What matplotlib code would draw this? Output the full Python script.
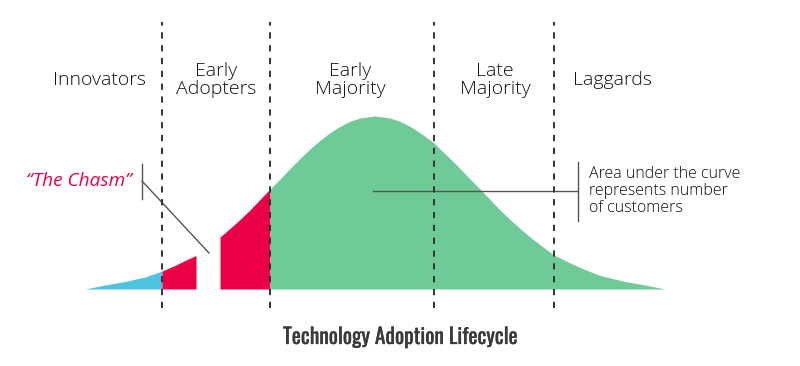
import matplotlib
matplotlib.use('Agg')
import matplotlib.pyplot as plt
from matplotlib import font_manager
import matplotlib.patheffects as pe
import numpy as np

# curve: x position (px) and height above the baseline (px)
curve_x = [85, 105, 125, 145, 162, 175, 185, 196, 205, 215, 220, 230, 240, 250, 260,
           270, 280, 290, 300, 310, 320, 330, 340, 350, 360, 375, 390, 400, 410, 420,
           434, 440, 450, 460, 470, 480, 490, 500, 510, 520, 530, 540, 553, 565, 580,
           600, 625, 645, 665]
curve_h = [0, 4, 7.5, 12, 18, 23.5, 28.5, 33.5, 41, 48, 52, 60.5, 69.5, 79, 89.5,
           100, 110, 120.5, 130.5, 140, 148.7, 156.3, 162.6, 167.7, 171, 173, 171, 167.7, 162.6, 156.3,
           146, 140, 130.5, 120.5, 110, 100, 89.5, 79, 69.5, 60.5, 52, 44.3, 34.5, 28.5, 21.5,
           13.5, 7.5, 4, 0]

segments = ['Innovators', 'Early\nAdopters', 'Early\nMajority', 'Late\nMajority', 'Laggards']
segment_x = [99, 216, 350, 495, 612]
boundaries = [162, 270, 434, 554]
chasm = (196, 220)

BLUE = '#4dc3e0'
RED = '#eb0045'
GREEN = '#6ecb98'
INK = '#111111'

# condensed face for the title, whichever is installed
installed = {f.name for f in font_manager.fontManager.ttflist}
title_font = 'Roboto'
title_size = 12.5
for cand, size in [('Oswald', 15.5), ('Roboto Condensed', 15.5), ('Liberation Sans Narrow', 14),
                   ('Open Sans Condensed', 15.5), ('DejaVu Sans Condensed', 13)]:
    if cand in installed:
        title_font, title_size = cand, size
        break

x = np.array(curve_x)
h = np.array(curve_h)

fig = plt.figure(figsize=(8, 3.66), dpi=100)
ax = fig.add_axes([0, 0, 1, 1])
ax.set_xlim(0, 800)
ax.set_ylim(-77, 289)
ax.axis('off')

m = x <= boundaries[0]
ax.fill_between(x[m], 0, h[m], color=BLUE, lw=0)
m = (x >= boundaries[0]) & (x <= chasm[0])
ax.fill_between(x[m], 0, h[m], color=RED, lw=0)
m = (x >= chasm[1]) & (x <= boundaries[1])
ax.fill_between(x[m], 0, h[m], color=RED, lw=0)
m = x >= boundaries[1]
ax.fill_between(x[m], 0, h[m], color=GREEN, lw=0)

for b in boundaries:
    ax.plot([b, b], [-19, 267], color='#333333', lw=1.4, ls=(0, (3.2, 3.4)), zorder=5)

for name, sx in zip(segments, segment_x):
    ax.text(sx, 289 - 80, name, ha='center', va='center', fontsize=14,
            family='Open Sans', fontweight='light', color=INK, linespacing=1.0)

# chasm callout
ax.text(79, 289 - 181, '\u201cThe Chasm\u201d', ha='center', va='center', fontsize=13.7,
        family='Open Sans', style='italic', fontweight='normal', color=RED)
ax.plot([142, 142], [289 - 164, 289 - 199], color='#555555', lw=1)
ax.plot([142, 209], [289 - 181, 289 - 253], color='#555555', lw=1)

# area callout
ax.plot([373, 578], [289 - 191, 289 - 191], color='#555555', lw=1, zorder=4)
ax.plot([578, 578], [289 - 162, 289 - 221], color='#555555', lw=1)
ax.text(589, 289 - 191, 'Area under the curve\nrepresents number\nof customers',
        ha='left', va='center', fontsize=11.5, family='Open Sans', fontweight='light',
        color=INK, linespacing=1.07)

ax.text(400, 289 - 337, 'Technology Adoption Lifecycle', ha='center', va='center',
        fontsize=title_size, family=title_font, fontweight='normal', color='#3a3a3a',
        path_effects=[pe.withStroke(linewidth=0.2, foreground='#3a3a3a')])

fig.savefig('out.png', dpi=100, facecolor='white')
